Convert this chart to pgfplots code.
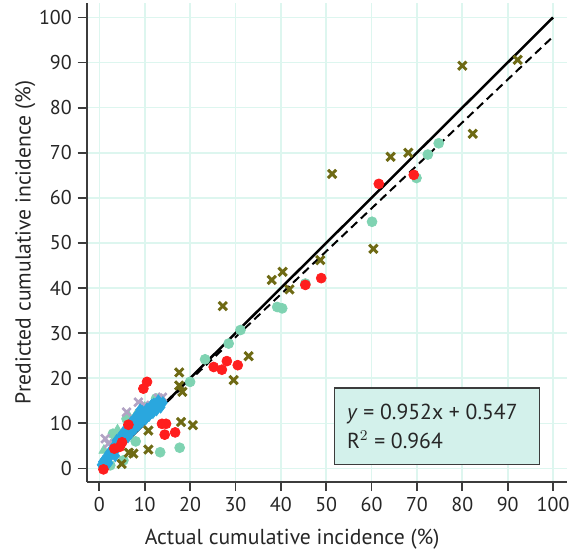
\documentclass[border=0pt]{standalone}
\usepackage{fontspec}
\setmainfont{PT Sans}
\usepackage{pgfplots}
\pgfplotsset{compat=1.18}
\definecolor{gridmint}{HTML}{DDF6EF}
\definecolor{axisgray}{HTML}{3C3C3C}
\definecolor{olivex}{HTML}{6E6A14}
\definecolor{redpt}{HTML}{FF1E1E}
\definecolor{mintpt}{HTML}{7FD3B2}
\definecolor{bluept}{HTML}{2AA7DE}
\definecolor{lavpt}{HTML}{B2A3C4}
\definecolor{boxfill}{HTML}{D3F1EB}

\begin{document}
\begin{tikzpicture}
\begin{axis}[
    scale only axis,
    width=288pt, height=287.4pt,
    xmin=-2.8, xmax=103, ymin=-3, ymax=103.2,
    axis lines=left,
    axis line style={-, draw=axisgray, line width=1.2pt},
    xtick={0,10,...,100}, ytick={0,10,...,100},
    tick align=outside, major tick length=5.4pt,
    tick style={axisgray, line width=1.1pt},
    grid=major, grid style={gridmint, line width=1pt},
    /pgf/number format/assume math mode=true,
    tick label style={font=\fontsize{12}{14}\selectfont, text=black!85},
    label style={font=\fontsize{13}{15}\selectfont, text=black!85},
    xlabel={Actual cumulative incidence (\%)},
    ylabel={Predicted cumulative incidence (\%)},
    xlabel style={at={(axis description cs:0.428,-0.119)}, anchor=center},
    ylabel style={at={(axis description cs:-0.128,0.5)}, anchor=center, rotate=0},
]

% mint triangles
\addplot[only marks, mark=triangle*, mark size=3.5pt, color=mintpt] coordinates {
(4,8.5)(6.5,11.5)(3,6)(10,13.5)(8,11.8)(1,4)
};

% mint circles
\addplot[only marks, mark=*, mark size=3pt, color=mintpt] coordinates {
(74.8,72.1)(72.4,69.6)(69.9,64.4)(60.1,54.7)(45.4,41)(39.2,35.8)(40.3,35.5)
(31.1,30.7)(28.5,27.7)(23.3,24.2)(20,19.2)(17.7,4.6)(11.9,14)(12.5,15.5)
(6,11)(3,7.7)(2.4,0.7)(5.3,1.8)(13.4,3.6)(8,6)(1.5,2)(9,12)
};

% lavender crosses
\addplot[only marks, mark=x, mark size=3.5pt, line width=1.6pt, color=lavpt] coordinates {
(8.6,14.7)(13,15.6)(13.9,15.8)(1.3,6.6)(2,5.5)(6,12.5)(10,14)
};

% blue cluster
\addplot[only marks, mark=diamond*, mark size=3.6pt, color=bluept] coordinates {
(0.5,0.8)(0.8,1.5)(1,1)(1.2,2)(1.5,1.8)(1.8,2.8)(2,2.2)(2.2,3.5)(2.5,3)
(2.8,4.2)(3,3.6)(3.3,5)(3.6,4.4)(4,5.6)(4.2,4.8)(4.5,6.5)(5,5.8)(5.3,7.2)
(5.6,6.4)(6,7.8)(6.3,7)(6.7,8.6)(7,8)(7.4,9.4)(7.8,8.8)(8.2,10.2)(8.6,9.6)
(9,11)(9.4,10.4)(9.8,11.6)(10.2,11)(10.6,12.2)(11,11.8)(11.4,12.8)(11.8,12.4)
(12.2,13.4)(12.6,13)(13,14)(13.5,13.6)(14,14.6)(2,1.2)(3.5,2.8)(1.5,0.8)
(7,10.2)(8.5,12)(9.5,12.6)(8,11.4)(10.5,13.2)(12,14.3)(6,9)(5,7.6)(3.8,6.2)
(13,15)(11.5,14)(9,13)
};

% red circles
\addplot[only marks, mark=*, mark size=3pt, color=redpt] coordinates {
(61.6,63.1)(69.3,65.1)(48.9,42.2)(45.4,40.7)(25.2,22.5)(28.1,23.8)(27,21.9)
(30.5,22.9)(9.7,17.7)(10.5,19.2)(13.8,9.9)(14.7,9.9)(14.4,7.5)(16.7,8)
(6.4,9.7)(3.3,4.4)(5,5.8)(0.9,-0.2)(4.5,4.8)
};

% olive crosses
\addplot[only marks, mark=x, mark size=3.5pt, line width=1.8pt, color=olivex] coordinates {
(80,89.3)(92.2,90.6)(82.3,74.2)(64.2,69.1)(68.1,70)(51.3,65.3)(60.4,48.7)
(48.7,46.2)(38,41.8)(40.4,43.6)(41.9,39.7)(27.2,36)(32.9,24.9)(29.6,19.6)
(17.6,21.3)(17.6,18.4)(18.3,17)(18,10.3)(20.6,9.6)(10.8,8.4)(10.8,4.2)
(7.5,3.3)(4.9,1)(6.5,3.5)
};

% identity and fitted lines
\addplot[black, line width=1.5pt] coordinates {(0,0)(100,100)};
\addplot[black, line width=1.2pt, dash pattern=on 5pt off 3pt] coordinates {(0,0.547)(100,95.747)};

\draw[axisgray, line width=1pt, fill=boxfill] (axis cs:51.8,0.9) rectangle (axis cs:97,17.8);
\node[anchor=west, align=left, font=\fontsize{13}{17.5}\selectfont, text=black!85]
    at (axis cs:53.3,9.4) {\textit{y} = 0.952x + 0.547\\R$^{2}$ = 0.964};
\end{axis}
\pgfresetboundingbox
\path ([shift={(-52pt,-43.2pt)}]current axis.south west) rectangle ([shift={(2.6pt,1.8pt)}]current axis.north east);
\end{tikzpicture}
\end{document}
